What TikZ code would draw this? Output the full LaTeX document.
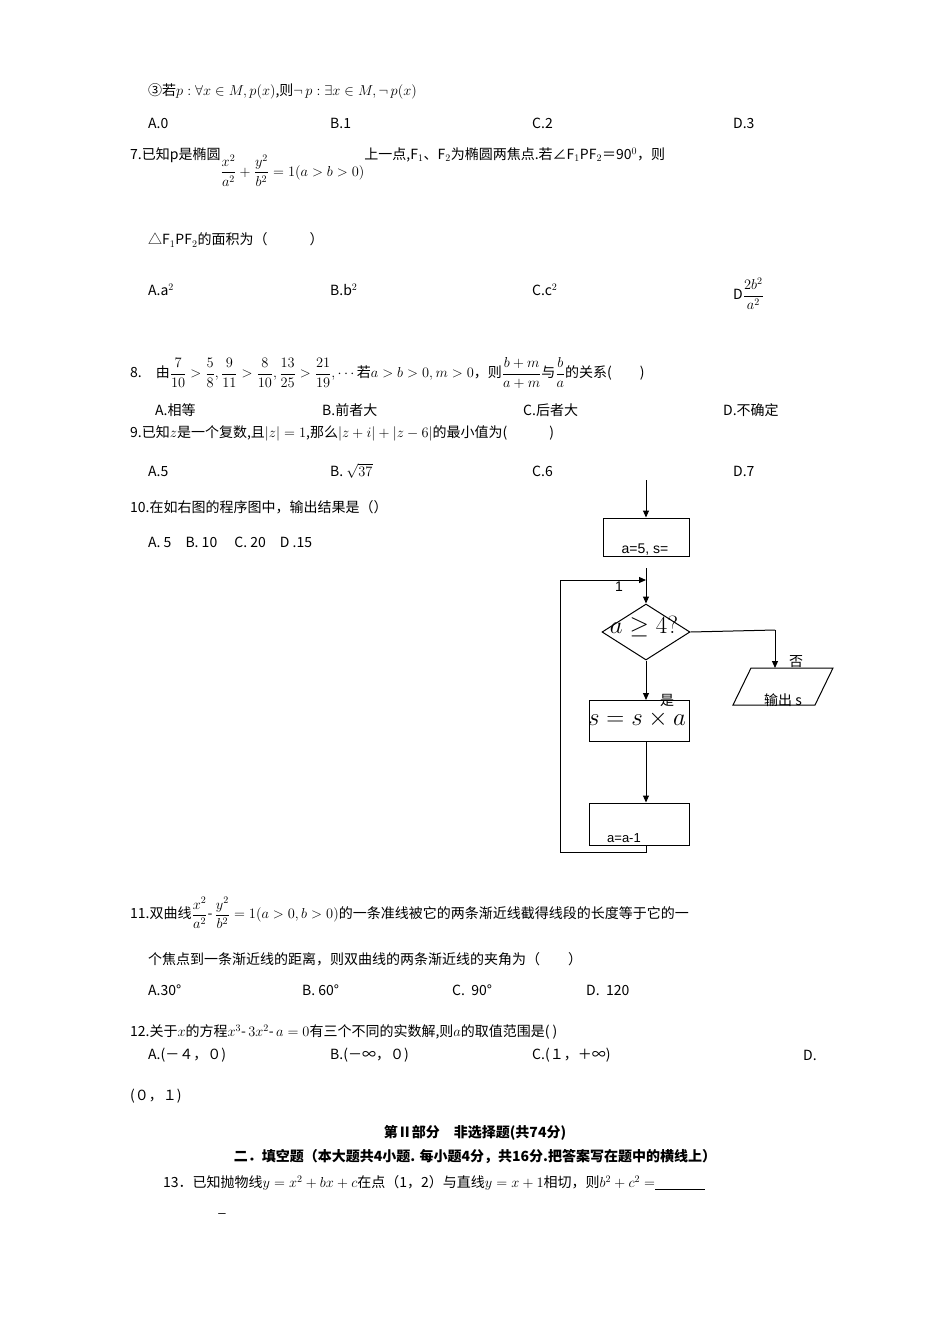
\documentclass[tikz,border=0pt]{standalone}
\usepackage{fontspec}
\usepackage{amsmath,amssymb}
\newfontfamily\cjk{Noto Sans CJK SC}
\newfontfamily\arial{Liberation Sans}
\usetikzlibrary{arrows.meta,shapes.geometric}
\begin{document}
\begin{tikzpicture}[x=1pt,y=-1pt,
  t/.style={anchor=west,inner sep=0pt,font=\cjk\fontsize{14}{16}\selectfont},
  tb/.style={inner sep=0pt,font=\cjk\bfseries\fontsize{14}{16}\selectfont},
  fl/.style={draw,line width=1pt},
  arr/.style={line width=1pt,-{Triangle[length=7pt,width=6pt]}},
  ln/.style={line width=1pt}]
\useasboundingbox (0,0) rectangle (950,1344);
\node[t] (l1) at (148,91) {③若$p:\forall x\in M,p(x)$,则$\neg\, p:\exists x\in M,\neg\, p(x)$};
\node[t] (a1) at (148,123) {A.0};\node[t] (b1) at (330,123) {B.1};
\node[t] (c1) at (532,123) {C.2};\node[t] (d1) at (733,123) {D.3};
\node[t] (q7) at (130,167) {7.已知p是椭圆\raisebox{-2.2ex}{$\dfrac{x^2}{a^2}+\dfrac{y^2}{b^2}=1(a>b>0)$}上一点,F$_1$、F$_2$为椭圆两焦点.若∠F$_1$PF$_2$＝90$^0$，则};
\node[t] (q7b) at (148,240) {△F$_1$PF$_2$的面积为（　　　）};
\node[t] (a7) at (148,290) {A.a$^2$};\node[t] (b7) at (330,290) {B.b$^2$};
\node[t] (c7) at (532,290) {C.c$^2$};\node[t,anchor=north west] (d7) at (733,278) {D$\dfrac{2b^2}{a^2}$};
\node[t] (q8) at (130,373) {8.　由$\dfrac{7}{10}>\dfrac{5}{8},\dfrac{9}{11}>\dfrac{8}{10},\dfrac{13}{25}>\dfrac{21}{19},\cdots$若$a>b>0,m>0$，则$\dfrac{b+m}{a+m}$与$\dfrac{b}{a}$的关系(　　)};
\node[t] (a8) at (155,410) {A.相等};\node[t] (b8) at (322,410) {B.前者大};
\node[t] (c8) at (523,410) {C.后者大};\node[t] (d8) at (723,410) {D.不确定};
\node[t] (q9) at (130,433) {9.已知$z$是一个复数,且$|z|=1$,那么$|z+i|+|z-6|$的最小值为(　　　)};
\node[t] (a9) at (148,471) {A.5};\node[t] (b9) at (330,471) {B.\ $\sqrt{37}$};
\node[t] (c9) at (532,471) {C.6};\node[t] (d9) at (733,471) {D.7};
\node[t] (q10) at (130,507) {10.在如右图的程序图中，输出结果是（）};
\node[t] (a10) at (148,542) {A.\ 5\quad B.\ 10\quad\ C.\ 20\quad D\ .15};
% flowchart
\coordinate (s0) at (646,480);
\node[fl,minimum width=86pt,minimum height=38pt,inner sep=0pt] (b1x) at (646,537) {};
\node[inner sep=0pt,font=\arial\fontsize{14}{16}\selectfont] (t1) at (645,550) {a=5, s=};
\node[inner sep=0pt,font=\arial\fontsize{14}{16}\selectfont] (t1b) at (619,587) {1};
\coordinate (m1) at (646,568);
\coordinate (m2) at (646,580);
\node[fl,diamond,minimum width=88pt,minimum height=56pt,inner sep=0pt,aspect=1.6] (dm) at (646,632) {};
\node[inner sep=0pt,font=\fontsize{24}{26}\selectfont] (dt) at (644,627) {$a\geq 4?$};
\coordinate (r1) at (775,630);
\coordinate (outtop) at (775,668);
\draw[ln] (751,668) -- (833,668) -- (815,705) -- (733,705) -- cycle;
\node[inner sep=0pt,font=\cjk\fontsize{14}{16}\selectfont] (no) at (796,662) {否};
\node[inner sep=0pt,font=\cjk\fontsize{14}{16}\selectfont] (ot) at (783,700) {输出 s};
\node[fl,minimum width=100pt,minimum height=41pt,inner sep=0pt] (b2) at (639,721) {};
\node[inner sep=0pt,font=\fontsize{26}{28}\selectfont] (b2t) at (637,719) {$s=s\times a$};
\node[inner sep=0pt,font=\cjk\fontsize{14}{16}\selectfont] (yes) at (667,700) {是};
\node[fl,minimum width=100pt,minimum height=42pt,inner sep=0pt] (b3) at (639,824) {};
\node[inner sep=0pt,font=\arial\fontsize{13}{15}\selectfont] (b3t) at (624,838) {a=a-1};
\coordinate (lp1) at (646,852);
\coordinate (lp2) at (560,852);
\coordinate (lp3) at (560,580);
\draw[arr] (s0) -- (b1x.north -| s0);
\draw[arr] (m1) -- (dm.north);
\draw[arr] (lp3) -- (m2);
\draw[ln] (dm.east) -- (r1);
\draw[arr] (r1) -- (outtop);
\draw[arr] (dm.south) -- (b2.north -| dm.south);
\draw[arr] (b2.south -| dm.south) -- (b3.north -| dm.south);
\draw[ln] (b3.south -| lp1) -- (lp1) -- (lp2) -- (lp3);
% Q11
\node[t] (q11) at (130,913) {11.双曲线$\dfrac{x^2}{a^2}$-\,$\dfrac{y^2}{b^2}=1(a>0,b>0)$的一条准线被它的两条渐近线截得线段的长度等于它的一};
\node[t] (q11b) at (148,959) {个焦点到一条渐近线的距离，则双曲线的两条渐近线的夹角为（　　）};
\node[t] (a11) at (148,990) {A.30°};\node[t] (b11) at (302,990) {B.\ 60°};
\node[t] (c11) at (452,990) {C.\ \ 90°};\node[t] (d11) at (586,990) {D.\ \ 120};
\node[t] (q12) at (130,1032) {12.关于$x$的方程$x^3$-\,$3x^2$-\,$a=0$有三个不同的实数解,则$a$的取值范围是(\ )};
\node[t] (a12) at (148,1055) {A.(－４，０)};\node[t] (b12) at (330,1055) {B.(－∞，０)};
\node[t] (c12) at (532,1055) {C.(１，＋∞)};\node[t] (d12) at (803,1055) {D.};
\node[t] (e12) at (130,1096) {(０，１)};
\node[tb] (h1) at (475,1133) {第Ⅱ部分　非选择题(共74分)};
\node[tb] (h2) at (475,1157) {二．填空题（本大题共4小题. 每小题4分，共16分.把答案写在题中的横线上）};
\node[t] (q13) at (163,1183) {13．已知抛物线$y=x^2+bx+c$在点（1，2）与直线$y=x+1$相切，则$b^2+c^2=$\underline{\hspace{50pt}}};
\node[t] (q13b) at (218,1213) {\_};
\end{tikzpicture}
\end{document}
